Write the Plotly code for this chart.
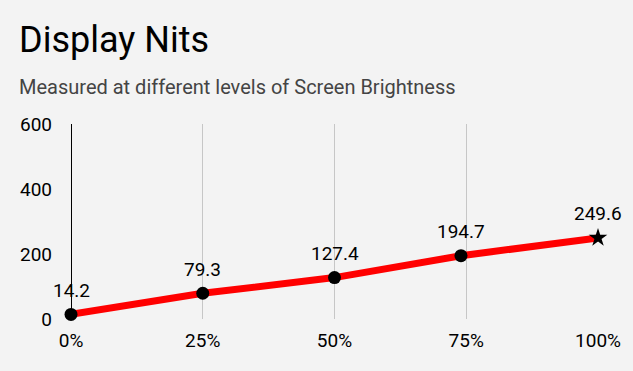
import plotly.graph_objects as go

# Data
brightness = [0, 25, 50, 74, 100]          # % screen brightness (x positions as read)
nits = [14.2, 79.3, 127.4, 194.7, 249.6]
labels = ["14.2", "79.3", "127.4", "194.7", "249.6"]
marker_symbols = ["circle", "circle", "circle", "circle", "star"]
x_tick_vals = [0, 25, 50, 75, 100]
x_tick_text = ["0%", "25%", "50%", "75%", "100%"]
y_tick_vals = [0, 200, 400, 600]

W, H = 633, 371
L, R, T, B = 71, 31, 124, 52
pw, ph = W - L - R, H - T - B

def px_x(px):
    return (px - L) / pw

def px_y(py):
    return (H - B - py) / ph

fig = go.Figure()
fig.add_trace(go.Scatter(
    x=brightness, y=nits, mode="lines+markers",
    line=dict(color="#ff0000", width=7),
    marker=dict(color="#000000", size=[13, 13, 13, 13, 14], symbol=marker_symbols,
                opacity=1, line=dict(width=0)),
    cliponaxis=False, hoverinfo="skip", showlegend=False,
))

annotations = [
    dict(x=xv, y=yv, text=t, xref="x", yref="y", showarrow=False,
         yanchor="middle", xanchor="center", yshift=24,
         font=dict(family="Roboto", size=19, color="black"))
    for xv, yv, t in zip(brightness, nits, labels)
]
annotations += [
    dict(text="Display Nits", xref="paper", yref="paper",
         x=px_x(17), y=px_y(40), xanchor="left", yanchor="middle",
         showarrow=False, font=dict(family="Roboto", size=36, color="black")),
    dict(text="Measured at different levels of Screen Brightness",
         xref="paper", yref="paper", x=px_x(17), y=px_y(87),
         xanchor="left", yanchor="middle", showarrow=False,
         font=dict(family="Roboto", size=20, color="#444444")),
]

fig.update_layout(
    width=W, height=H,
    margin=dict(l=L, r=R, t=T, b=B),
    paper_bgcolor="#f3f3f3", plot_bgcolor="#f3f3f3",
    font=dict(family="Roboto", size=18, color="black"),
    xaxis=dict(range=[0, 100], tickvals=x_tick_vals, ticktext=x_tick_text,
               showgrid=True, gridcolor="#c6c6c6", gridwidth=1,
               zeroline=True, zerolinecolor="black", zerolinewidth=1,
               showline=False, ticks="", ticklabelstandoff=8,
               tickfont=dict(size=19)),
    yaxis=dict(range=[0, 600], tickvals=y_tick_vals, showgrid=False,
               zeroline=False, showline=False, ticks="", ticklabelstandoff=18,
               tickfont=dict(size=19)),
    annotations=annotations,
)

fig.write_html("out.html", config={"displayModeBar": False},
               post_script="document.body.style.margin='0';document.body.style.background='#f3f3f3';")
